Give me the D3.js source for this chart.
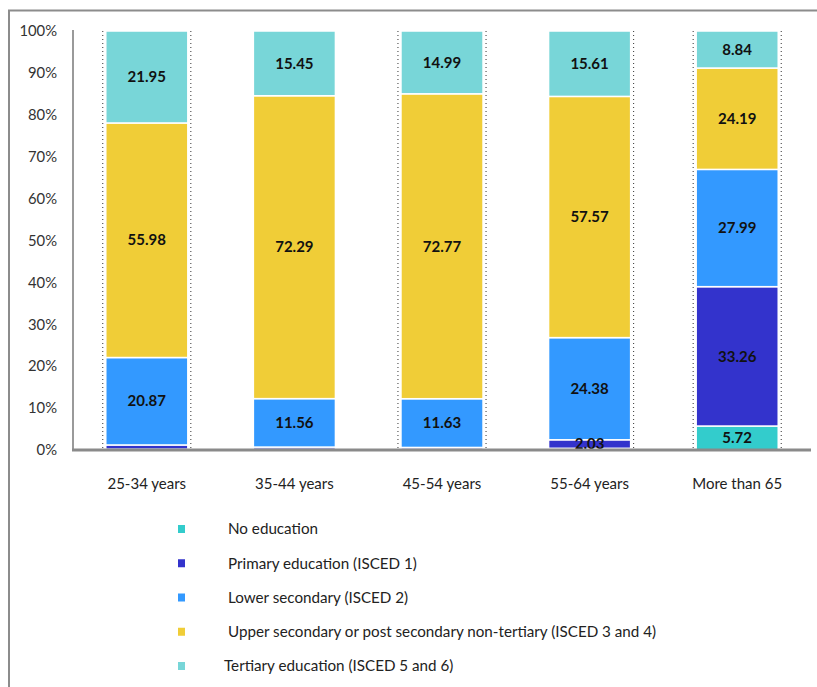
<!DOCTYPE html>
<html>
<head>
<meta charset="utf-8">
<script src="https://cdn.jsdelivr.net/npm/d3@7/dist/d3.min.js"></script>
<style>
  html, body { margin: 0; padding: 0; background: #fff; }
  svg { display: block; }
</style>
</head>
<body>
<svg id="chart" width="817" height="687"></svg>
<script>
// Age groups along the x axis
const ageGroups = ["25-34 years", "35-44 years", "45-54 years", "55-64 years", "More than 65"];

// Education levels, stacked from the bottom up
const levels = [
  "No education",
  "Primary education (ISCED 1)",
  "Lower secondary (ISCED 2)",
  "Upper secondary or post secondary non-tertiary (ISCED 3 and 4)",
  "Tertiary education (ISCED 5 and 6)"
];

// Share of each age group (%) by education level
const noEducation = [0.2, 0.2, 0.2, 0.41, 5.72];
const primary     = [1.0, 0.5, 0.41, 2.03, 33.26];
const lowerSec    = [20.87, 11.56, 11.63, 24.38, 27.99];
const upperSec    = [55.98, 72.29, 72.77, 57.57, 24.19];
const tertiary    = [21.95, 15.45, 14.99, 15.61, 8.84];

const yTicks = [0, 10, 20, 30, 40, 50, 60, 70, 80, 90, 100];

const colors = ["#33CCCC", "#3333CC", "#3399FF", "#F0CD37", "#78D6D8"];

const seriesValues = [noEducation, primary, lowerSec, upperSec, tertiary];
const rows = ageGroups.map((g, i) => {
  const r = { group: g };
  levels.forEach((lv, k) => { r[lv] = seriesValues[k][i]; });
  return r;
});

const svg = d3.select("#chart");
const font = "Lato, 'Open Sans', sans-serif";

// outer frame
svg.append("path")
  .attr("d", "M9,687 V10.5 H817")
  .attr("fill", "none")
  .attr("stroke", "#8c8c8c")
  .attr("stroke-width", 2);

const x = d3.scaleBand().domain(ageGroups).range([73, 811]).paddingInner(0.444).paddingOuter(0.222);
const y = d3.scaleLinear().domain([0, 100]).range([450, 31]);

const stack = d3.stack().keys(levels);
const series = stack(rows);

// dotted guide lines beside some columns
const guideSides = { "25-34 years": [-1, 1], "45-54 years": [-1, 1], "55-64 years": [1], "More than 65": [-1, 1] };
Object.entries(guideSides).forEach(([g, sides]) => {
  sides.forEach(s => {
    const gx = s < 0 ? x(g) - 3 : x(g) + x.bandwidth() + 3;
    svg.append("line")
      .attr("x1", gx).attr("x2", gx)
      .attr("y1", y(100)).attr("y2", y(0))
      .attr("stroke", "#333")
      .attr("stroke-width", 1)
      .attr("stroke-dasharray", "1,3");
  });
});

// stacked segments
const layer = svg.append("g").selectAll("g").data(series).join("g")
  .attr("fill", (d, i) => colors[i]);

layer.selectAll("rect").data(d => d).join("rect")
  .attr("x", d => x(d.data.group))
  .attr("y", d => y(d[1]))
  .attr("width", x.bandwidth())
  .attr("height", d => Math.max(0, y(d[0]) - y(d[1])))
  .attr("stroke", "#fff")
  .attr("stroke-width", 1.5);

// value labels
const labels = svg.append("g");
series.forEach(s => {
  s.forEach(d => {
    const v = d[1] - d[0];
    if (v < 2) return;
    labels.append("text")
      .attr("x", x(d.data.group) + x.bandwidth() / 2)
      .attr("y", (y(d[0]) + y(d[1])) / 2)
      .attr("dy", "0.35em")
      .attr("text-anchor", "middle")
      .attr("font-family", font)
      .attr("font-weight", "bold")
      .attr("font-size", 15)
      .attr("fill", "#111")
      .text(v.toFixed(2));
  });
});

// y axis
const yAxis = d3.axisLeft(y).tickValues(yTicks).tickSize(0).tickPadding(16).tickFormat(d => d + "%");
const ya = svg.append("g").attr("transform", "translate(73,0)").call(yAxis);
ya.select(".domain").attr("stroke", "#9a9a9a").attr("stroke-width", 2).attr("d", `M0,${y(100) - 1}V${y(0) + 1}`);
ya.selectAll("text").attr("font-family", font).attr("font-size", 14.8).attr("fill", "#333");

// x axis
const xAxis = d3.axisBottom(x).tickSize(0).tickPadding(28);
const xa = svg.append("g").attr("transform", `translate(0,${y(0)})`).call(xAxis);
xa.select(".domain").attr("stroke", "#8a8a8a").attr("stroke-width", 3).attr("d", "M72,0H811");
xa.selectAll("text").attr("font-family", font).attr("font-size", 15).attr("fill", "#222");

// legend
const legend = svg.append("g");
const legendY = d3.scalePoint().domain(levels).range([529, 666]);
levels.forEach((lv, i) => {
  const ly = legendY(lv);
  legend.append("rect")
    .attr("x", 178).attr("y", ly - 4)
    .attr("width", 7).attr("height", 8)
    .attr("fill", colors[i]);
  legend.append("text")
    .attr("x", i === 4 ? 224 : 228)
    .attr("y", ly)
    .attr("dy", "0.35em")
    .attr("font-family", font)
    .attr("font-size", 15.2)
    .attr("fill", "#222")
    .text(lv);
});
</script>
</body>
</html>
